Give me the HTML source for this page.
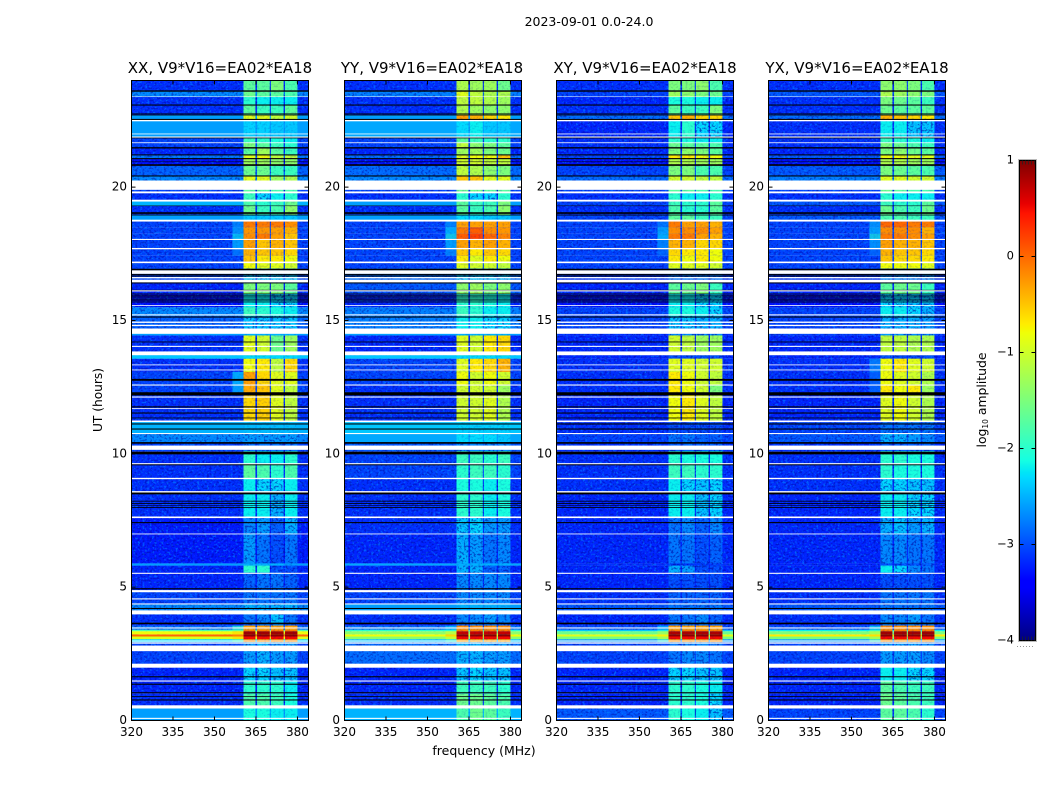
<!DOCTYPE html>
<html><head><meta charset="utf-8"><title>2023-09-01 0.0-24.0</title>
<style>
html,body{margin:0;padding:0;background:#fff;width:1050px;height:800px;overflow:hidden}
svg{display:block}
text{font-family:"DejaVu Sans","Liberation Sans",sans-serif;fill:#000}
</style></head>
<body>
<svg id="fig" xmlns="http://www.w3.org/2000/svg" width="1050" height="800" viewBox="0 0 1050 800">
<defs>
<filter id="speckLight" x="0" y="0" width="100%" height="100%" color-interpolation-filters="sRGB">
<feTurbulence type="fractalNoise" baseFrequency="0.42 0.5" numOctaves="2" seed="4"/>
<feColorMatrix type="matrix" values="0 0 0 0 0  0 0 0 0 0.55  0 0 0 0 1  6 0 0 0 -3.3"/>
</filter>
<filter id="speckDark" x="0" y="0" width="100%" height="100%" color-interpolation-filters="sRGB">
<feTurbulence type="fractalNoise" baseFrequency="0.42 0.5" numOctaves="2" seed="11"/>
<feColorMatrix type="matrix" values="0 0 0 0 0  0 0 0 0 0  0 0 0 0 0.6  5 0 0 0 -2.5"/>
</filter>
<linearGradient id="jetGrad" x1="0" y1="1" x2="0" y2="0"></linearGradient>
</defs>
<rect x="0" y="0" width="1050" height="800" fill="#fff"/>
<text x="589" y="26" font-size="12.5" text-anchor="middle">2023-09-01 0.0-24.0</text>
<text x="220" y="73" font-size="15" text-anchor="middle">XX, V9*V16=EA02*EA18</text>
<text x="432" y="73" font-size="15" text-anchor="middle">YY, V9*V16=EA02*EA18</text>
<text x="645" y="73" font-size="15" text-anchor="middle">XY, V9*V16=EA02*EA18</text>
<text x="857" y="73" font-size="15" text-anchor="middle">YX, V9*V16=EA02*EA18</text>
<text x="0" y="0" font-size="12.2" text-anchor="middle" transform="translate(102,400) rotate(-90)">UT (hours)</text>
<text x="484" y="755" font-size="12.5" text-anchor="middle">frequency (MHz)</text>
<text x="0" y="0" font-size="12.4" text-anchor="middle" transform="translate(986,400) rotate(-90)">log<tspan font-size="7.5" dy="2">10</tspan><tspan dy="-2"> amplitude</tspan></text>
<g id="panels"></g>
<g id="colorbar"></g>
</svg>
<script>
// Time segments (UT hours): each row runs from its start to the next start
const segmentStarts = [0,0.5,1.0,1.5,2.1,2.94,3.05,3.15,3.23,3.35,3.40,3.56,3.67,3.98,4.35,4.85,5.55,5.81,5.89,7.0,7.6,8.6,9.08,9.63,10.1,10.44,10.76,11.2,12.19,12.58,13.07,13.57,13.7,14.44,14.6,15.17,15.5,16.0,16.41,16.95,17.18,17.43,17.69,18.04,18.25,18.5,18.75,18.97,19.3,19.5,19.8,20.25,20.42,20.8,21.06,21.2,21.47,21.66,21.88,22.5,22.7,23.08,23.39,23.6];
const segmentEnd = 24;
// Frequency channels (MHz)
const bandEdges = [[360.5,364.8],[365.4,370.0],[370.4,375.0],[375.5,380.0]];
const freqMin = 320;
const freqMax = 384;
const rampFreqStart = 355;
// log10 amplitude per segment: [background, band1, band2, band3, band4, optional shoulder below 360 MHz]
const levelsXX = [
[-2.6,-2.1,-2.1,-2.2,-2.2],[-3.15,-1.8,-1.8,-1.9,-2.1],[-3.2,-2,-2,-2,-2.2],[-3.2,-2.3,-2.3,-2.4,-2.4],[-3.05,-2.6,-2.5,-2.6,-2.6],
[-2.3,-.2,-.2,-.2,-.2,-1.8],[-.9,.5,.5,.5,.5,-.6],[0,.95,.95,.95,.95,-.2],[-.8,.85,.85,.85,.85,-.6],[-1.8,-.1,-.1,-.1,-.1,-1.6],[-2.8,-.3,-.3,-.3,-.3,-2],
[-3.2,-2.9,-2.8,-2.7,-2.9],[-3.15,-2.8,-2.7,-2.4,-2.8],[-2.7,-2.5,-2.5,-2.5,-2.5],[-3.05,-2.8,-2.8,-2.8,-2.8],[-3.2,-2.9,-2.8,-2.8,-2.9],[-3.2,-2,-2,-3,-3],[-2.6,-2.5,-2.5,-2.5,-2.6],
[-3.25,-2.6,-2.8,-3,-2.8],[-3.25,-2.7,-2.6,-2.9,-2.5],[-3.15,-2.2,-2.2,-2.5,-2.2],[-3.15,-2.2,-2.3,-2.3,-2.2],[-3.15,-1.7,-1.8,-2,-1.8],[-3.15,-2,-2.2,-2.2,-2],[-3.05,-2.8,-2.8,-2.8,-2.8],
[-2.7,-2.6,-2.6,-2.6,-2.6],[-2.5,-2.45,-2.45,-2.45,-2.45],[-3.15,-.6,-.55,-.9,-1.1],[-3.05,-.35,-.5,-.9,-1.1,-2.4],[-3.05,-.3,-.6,-.9,-.9,-2.3],[-3.15,-.8,-.7,-1.1,-.6],[-2.4,-2.3,-2.3,-2.3,-2.3],
[-3.15,-.9,-1,-1.6,-1.3],[-2.6,-2.5,-2.5,-2.5,-2.5],[-2.9,-2.4,-2.4,-2.4,-2.4],[-2.7,-1.9,-2,-2.1,-2.2],[-3.3,-2.2,-2.2,-2.3,-2.3],[-3.2,-1.5,-1.5,-1.5,-1.7],[-3.05,-2.4,-2.4,-2.4,-2.4],
[-3.05,-.8,-.9,-.9,-1],[-3.05,-.5,-.7,-.7,-.8],[-3.05,-.4,-.5,-.5,-.6,-2.7],[-3.05,-.3,-.5,-.4,-.5,-2.4],[-3.05,-.2,-.1,-.3,-.5,-2.2],[-3.05,-.25,-.25,-.3,-.4,-2.5],[-3.05,-.1,-.1,-.1,-.2,-2.6],
[-2.6,-2.4,-2.4,-2.4,-2.4],[-3.15,-1.6,-1.9,-1.8,-1.4],[-2.5,-1.8,-2,-1.9,-1.6],[-3.15,-1.9,-2.3,-2.2,-2],[-3.05,-1.7,-1.7,-1.8,-1.8],[-2.7,-.9,-.9,-1.3,-1.2],[-2.9,-1.6,-1.6,-1.9,-1.9],[-3.3,-1.3,-1.3,-1.4,-1.4],
[-2.8,-.9,-.8,-1.1,-1.1],[-3.2,-1.7,-1.3,-1.7,-1.9],[-3.05,-1.5,-1.7,-1.9,-2],[-3.05,-1.9,-2,-2.1,-2.2],[-2.6,-2.35,-2.35,-2.4,-2.4],[-2.6,-.9,-.9,-1.1,-1],[-3.15,-1.7,-1.9,-1.9,-1.7],[-3.15,-2,-2.2,-2.2,-2.2],[-2.7,-1.6,-1.7,-1.7,-1.8],[-3.15,-1.7,-1.7,-1.5,-1.8]];
const levelsYY = [
[-2.5,-1.8,-1.6,-1.7,-1.9],[-3.15,-1.6,-1.6,-1.7,-1.8],[-3.2,-1.9,-1.9,-1.9,-2],[-3.2,-2.4,-2.3,-2.4,-2.4],[-2.85,-2.5,-2.5,-2.6,-2.6],
[-2.4,-.3,-.3,-.3,-.3,-1.9],[-1.4,.5,.5,.5,.5,-.9],[-.8,.95,.95,.95,.95,-.5],[-1.4,.7,.7,.7,.7,-1],[-2,-.1,-.1,-.1,-.1,-2],[-2.8,-.2,-.2,-.2,-.2,-2.4],
[-3.2,-2.9,-2.8,-2.8,-2.9],[-3.15,-2.7,-2.7,-2.6,-2.7],[-2.6,-2.5,-2.5,-2.5,-2.5],[-3.05,-2.7,-2.7,-2.7,-2.7],[-3.2,-2.7,-2.7,-2.7,-2.7],[-3.2,-2.5,-2.5,-2.9,-2.9],[-2.55,-2.5,-2.5,-2.5,-2.5],
[-3.2,-2.5,-2.6,-2.8,-2.7],[-3.15,-2.4,-2.3,-2.6,-2.6],[-3.15,-2,-2,-2.2,-2.1],[-3.15,-2.1,-2.1,-2.2,-2.1],[-3.05,-2,-1.9,-1.9,-2],[-3.05,-1.9,-1.9,-2,-1.9],[-2.95,-2.7,-2.7,-2.7,-2.7],
[-2.55,-2.3,-2.3,-2.3,-2.4],[-2.4,-2.35,-2.35,-2.35,-2.35],[-3.15,-1,-1,-.9,-1.2],[-3.15,-1,-1,-1,-1.3],[-3.05,-.8,-1,-.8,-1],[-3.05,-.9,-.7,-.6,-.4],[-2.4,-2.3,-2.3,-2.3,-2.3],
[-3.2,-.9,-1,-.7,-.6],[-2.6,-2.5,-2.5,-2.5,-2.5],[-2.75,-2.2,-2.2,-2.3,-2.3],[-2.75,-1.9,-2,-2.2,-2.2],[-3.2,-2,-2,-2.1,-2.2],[-2.95,-1.4,-1.3,-1.5,-1.4],[-2.85,-2.4,-2.4,-2.4,-2.4],
[-3.05,-.9,-1,-1,-1.1],[-3.05,-.7,-.9,-.7,-.8],[-3.05,-.5,-.7,-.5,-.6,-2.6],[-3.05,-.3,-.4,-.3,-.4,-2.4],[-3.05,.05,.2,0,-.15,-2.1],[-3.05,-.1,.05,-.2,-.25,-2.3],[-3.05,-.3,-.3,-.3,-.3,-2.6],
[-2.6,-2.3,-2.3,-2.4,-2.4],[-3.15,-1.7,-1.9,-1.8,-1.4],[-2.6,-1.7,-1.9,-1.9,-1.5],[-3.15,-2,-2.3,-2.3,-2],[-3.05,-1.6,-1.6,-1.7,-1.7],[-2.7,-.5,-.5,-.9,-.9],[-2.85,-1.1,-1.2,-1.4,-1.5],[-3.3,-1,-1,-1.1,-1.1],
[-2.85,-.9,-.8,-.8,-.5],[-3.2,-1.3,-1.3,-1.5,-1.6],[-3.05,-1.1,-1.4,-1.5,-1.7],[-3.05,-1.7,-1.9,-2,-2],[-2.55,-2.3,-2.2,-2.4,-2.4],[-2.6,-.3,-.4,-.6,-.7],[-3.15,-1.2,-1.3,-1.4,-1.4],[-3.15,-1.1,-1.1,-1.2,-1.3],[-2.75,-.9,-1.1,-1.2,-1.2],[-3.15,-1.2,-1.3,-1.3,-1.6]];
const levelsXY = [
[-2.95,-2,-2.1,-2.2,-2.4],[-3.2,-2,-2,-2.1,-2.3],[-3.2,-2,-2,-2.1,-2.2],[-3.2,-2.3,-2.3,-2.4,-2.4],[-3.05,-2.8,-2.7,-2.7,-2.8],
[-2.6,-.2,-.2,-.2,-.2,-1.9],[-1.5,.5,.5,.5,.5,-1.1],[-.9,.95,.95,.95,.95,-.7],[-1.6,.8,.8,.8,.8,-1.2],[-2.4,-.1,-.1,-.1,-.1,-2],[-3,-.3,-.3,-.3,-.3,-2.4],
[-3.2,-2.9,-2.8,-2.8,-2.9],[-3.2,-2.8,-2.8,-2.7,-2.9],[-2.95,-2.8,-2.8,-2.8,-2.8],[-3.15,-2.9,-2.9,-2.9,-2.9],[-3.2,-3,-3,-3,-3],[-3.2,-2.5,-2.6,-3,-3],[-3.15,-3.1,-3.1,-3.1,-3.1],
[-3.2,-2.8,-2.8,-3,-2.9],[-3.2,-2.8,-2.7,-2.9,-2.7],[-3.2,-2.2,-2.2,-2.4,-2.3],[-3.15,-2.2,-2.3,-2.4,-2.3],[-3.15,-1.9,-1.9,-2,-2],[-3.15,-2,-2.1,-2.1,-2.1],[-3.15,-2.9,-2.9,-2.9,-2.9],
[-3.05,-2.8,-2.8,-2.9,-2.9],[-3.15,-3,-3,-3,-3],[-3.2,-.8,-.7,-.9,-1.1],[-3.15,-.7,-.8,-1,-1.5],[-3.15,-.7,-.8,-1,-1.1],[-3.15,-.9,-.9,-1,-1],[-3.2,-3,-3,-3,-3],
[-3.2,-1,-1.1,-1.3,-1.3],[-3.15,-2.7,-2.7,-2.7,-2.7],[-3.05,-2.4,-2.4,-2.5,-2.5],[-3.05,-2.1,-2.1,-2.2,-2.3],[-3.3,-2.2,-2.2,-2.3,-2.3],[-3.2,-1.7,-1.6,-1.5,-1.9],[-3.15,-2.8,-2.8,-2.8,-2.8],
[-3.05,-.9,-.9,-.9,-1],[-3.05,-.7,-.8,-.7,-.8],[-3.05,-.6,-.7,-.7,-.8,-2.8],[-3.05,-.4,-.4,-.6,-.6,-2.6],[-3.05,-.1,-.1,-.3,-.4,-2.3],[-3.05,-.2,-.2,-.2,-.3,-2.4],[-3.05,-.1,-.3,-.3,-.4,-2.7],
[-3.05,-1.7,-1.7,-1.9,-1.9],[-3.15,-1.8,-2,-2,-1.7],[-3.05,-1.9,-2,-2,-1.7],[-3.15,-2,-2.2,-2.2,-2],[-3.05,-1.7,-1.7,-1.8,-1.8],[-2.85,-1,-1,-1.1,-1.1],[-3.05,-1.5,-1.5,-1.8,-1.8],[-3.3,-1.2,-1.2,-1.3,-1.3],
[-3.05,-.7,-.7,-.8,-.8],[-3.2,-1.5,-1.4,-1.5,-1.7],[-3.15,-1.6,-1.7,-1.7,-1.8],[-3.15,-2,-2.1,-2.2,-2.2],[-3.2,-2.2,-2,-2.3,-2.3],[-2.85,-.5,-.4,-.6,-.6],[-3.15,-1.7,-1.9,-1.9,-1.5],[-3.2,-2.1,-2.1,-2.2,-2.2],[-3.05,-1.3,-1.4,-1.5,-1.6],[-3.15,-1.5,-1.5,-1.4,-1.8]];
const levelsYX = [
[-3.05,-1.7,-1.7,-1.8,-2],[-3.2,-1.6,-1.7,-1.8,-1.9],[-3.2,-1.7,-1.8,-1.9,-1.9],[-3.2,-2.2,-2.2,-2.3,-2.3],[-3.05,-2.6,-2.6,-2.6,-2.7],
[-2.6,-.2,-.2,-.2,-.2,-1.8],[-1.5,.5,.5,.5,.5,-1.1],[-.7,.95,.95,.95,.95,-.6],[-1.5,.85,.85,.85,.85,-1.1],[-2.2,-.1,-.1,-.1,-.1,-1.8],[-3,-.2,-.2,-.2,-.2,-2.2],
[-3.2,-2.8,-2.8,-2.7,-2.8],[-3.15,-2.7,-2.7,-2.6,-2.8],[-2.95,-2.8,-2.8,-2.8,-2.8],[-3.15,-2.8,-2.8,-2.8,-2.8],[-3.2,-3,-3,-3,-3],[-3.2,-2.2,-2.3,-2.7,-2.8],[-3.2,-3,-3,-3,-3],
[-3.2,-2.7,-2.7,-2.8,-2.8],[-3.2,-2.5,-2.4,-2.6,-2.5],[-3.2,-2.2,-2.2,-2.3,-2.3],[-3.15,-2.3,-2.3,-2.4,-2.4],[-3.15,-2,-2.1,-2.1,-2.1],[-3.15,-2,-2,-2.1,-2.1],[-3.15,-2.9,-2.9,-2.9,-2.9],
[-2.95,-2.5,-2.5,-2.6,-2.7],[-3.05,-2.8,-2.8,-2.8,-2.8],[-3.2,-.9,-.8,-1,-1.2],[-3.15,-.7,-.8,-.7,-1.3,-2.8],[-3.15,-.8,-.9,-1,-1.2,-2.8],[-3.15,-.8,-.7,-.9,-1,-2.6],[-3.2,-3,-3,-3,-3],
[-3.2,-1.1,-1.1,-1.2,-1.2],[-3.05,-2.6,-2.6,-2.7,-2.7],[-3.05,-2.5,-2.5,-2.5,-2.6],[-3.05,-2.2,-2.2,-2.3,-2.5],[-3.3,-2.3,-2.3,-2.4,-2.4],[-3.2,-1.7,-1.6,-1.6,-1.9],[-3.15,-2.7,-2.7,-2.7,-2.7],
[-3.05,-.8,-.8,-.8,-.9],[-3.05,-.5,-.6,-.6,-.7],[-3.05,-.4,-.5,-.5,-.6,-2.8],[-3.05,-.3,-.4,-.4,-.5,-2.5],[-3.05,-.1,-.1,-.2,-.3,-2.1],[-3.05,-.2,-.2,-.2,-.4,-2.4],[-3.05,0,0,-.1,-.1,-2.5],
[-2.95,-1.8,-1.8,-1.9,-1.9],[-3.15,-1.6,-1.8,-1.9,-1.6],[-2.95,-1.9,-2,-2,-1.7],[-3.15,-2,-2.2,-2.2,-2.2],[-3.05,-1.6,-1.7,-1.8,-1.8],[-2.75,-.9,-.9,-1,-1],[-2.95,-1.5,-1.6,-1.7,-1.8],[-3.3,-1.2,-1.2,-1.3,-1.3],
[-2.95,-.8,-.8,-.9,-.9],[-3.2,-1.5,-1.4,-1.6,-1.7],[-3.15,-1.5,-1.6,-1.8,-1.9],[-3.15,-1.9,-2,-2.1,-2.2],[-3.15,-2.2,-2.2,-2.4,-2.4],[-2.85,-.4,-.5,-.6,-.7],[-3.15,-1.6,-1.7,-1.7,-1.7],[-3.15,-1.5,-1.6,-1.7,-1.9],[-2.95,-1.2,-1.3,-1.4,-1.5],[-3.15,-1.4,-1.4,-1.5,-1.8]];
// Flagged (blank) and zero-amplitude (black) time ranges, UT hours
const blankRanges = [[.06,.10],[.45,.57],[1.46,1.50],[1.98,2.13],[2.60,2.81],[2.88,2.93],[2.96,3.0],[3.45,3.49],[3.98,4.13],[4.35,4.39],[4.54,4.58],[4.81,4.89],[5.50,5.54],[6.98,7.01],[7.59,7.65],[8.55,8.60],[9.05,9.10],[9.61,9.65],[10.15,10.31],[10.74,10.78],[11.19,11.25],[11.68,11.71],[12.11,12.15],[12.56,12.60],[13.13,13.16],[13.32,13.35],[13.70,13.84],[14.01,14.05],[14.50,14.70],[14.79,14.84],[14.91,14.96],[15.19,15.23],[15.55,15.58],[16.09,16.13],[16.43,16.53],[16.58,16.63],[16.75,16.88],[17.15,17.21],[17.67,17.72],[18.02,18.06],[18.71,18.78],[19.46,19.53],[19.77,19.84],[19.90,20.25],[21.65,21.68],[21.86,21.90],[21.98,22.01],[22.47,22.52],[23.38,23.40]];
const blackRanges = [[.75,.79],[.88,.91],[1.02,1.06],[1.34,1.38],[1.62,1.66],[3.61,3.67],[4.18,4.22],[4.92,4.96],[7.40,7.44],[7.97,8.0],[8.06,8.08],[8.12,8.15],[8.21,8.24],[8.48,8.55],[9.57,9.61],[9.98,10.08],[10.38,10.44],[10.91,10.95],[11.10,11.14],[11.33,11.36],[11.51,11.55],[11.74,11.78],[12.19,12.31],[12.74,12.81],[14.18,14.21],[15.11,15.15],[15.68,15.71],[15.75,15.79],[15.83,15.86],[15.90,15.94],[15.98,16.01],[16.13,16.15],[16.39,16.43],[16.65,16.69],[16.71,16.75],[16.88,16.94],[18.94,18.97],[19.0,19.06],[19.29,19.31],[20.40,20.44],[20.80,20.86],[20.94,20.96],[21.05,21.09],[21.19,21.23],[21.45,21.50],[21.83,21.86],[22.52,22.56],[22.69,22.73],[22.75,22.77],[23.06,23.10],[23.58,23.63]];
// Axis ticks
const freqTicks = [320,335,350,365,380];
const utTicks = [0,5,10,15,20];
const colorTicks = [-4,-3,-2,-1,0,1];
const colorTickLabels = ['\u22124','\u22123','\u22122','\u22121','0','1'];
const panelNames = ['xx','yy','xy','yx'];
const panelLevels = [levelsXX,levelsYY,levelsXY,levelsYX];
const panelLefts = [131.5,344.5,556.5,768.5];
const panelWidth = 177, panelTop = 80.5, panelBottom = 720.5;
const brightBackground = -2.65, brightBand = -2.2;
const NS = 'http://www.w3.org/2000/svg';
const jetR = [[0,0],[.35,0],[.66,1],[.89,1],[1,.5]];
const jetG = [[0,0],[.125,0],[.375,1],[.64,1],[.91,0],[1,0]];
const jetB = [[0,.5],[.11,1],[.34,1],[.65,0],[1,0]];
function channel(anchors,t){
  for(let i=1;i<anchors.length;i++){
    if(t<=anchors[i][0]){
      const a=anchors[i-1],b=anchors[i];
      return a[1]+(b[1]-a[1])*(t-a[0])/(b[0]-a[0]);
    }
  }
  return anchors[anchors.length-1][1];
}
function jet(t){
  t=Math.max(0,Math.min(1,t));
  return 'rgb('+[jetR,jetG,jetB].map(c=>Math.round(channel(c,t)*255)).join(',')+')';
}
function colorOf(v){return jet((v+4)/5);}
function xScale(left,f){return left+(f-freqMin)/(freqMax-freqMin)*panelWidth;}
function yScale(h){return panelBottom-h/24*(panelBottom-panelTop);}
function mk(parent,tag,attrs){
  const el=document.createElementNS(NS,tag);
  for(const k in attrs)el.setAttribute(k,attrs[k]);
  parent.appendChild(el);
  return el;
}
function segTop(i){return yScale(i+1<segmentStarts.length?segmentStarts[i+1]:segmentEnd);}
const root=document.getElementById('panels');
panelNames.forEach(function(name,p){
  const left=panelLefts[p];
  const g=mk(root,'g',{});
  
  
  const rows=panelLevels[p];
  function drawBackground(row,i){
    const top=segTop(i),h=yScale(segmentStarts[i])-top;
    const bg=mk(g,'rect',{x:left,y:top,width:panelWidth,height:h,fill:colorOf(row[0])});
    
    
  }
  function drawBand(row,i,b){
    const top=segTop(i),h=yScale(segmentStarts[i])-top;
    const x0=xScale(left,bandEdges[b][0]),x1=xScale(left,bandEdges[b][1]);
    const cell=mk(g,'rect',{x:x0,y:top,width:x1-x0,height:h,fill:colorOf(row[b+1])});
    
    
  }
  // quiet cells sit under the speckle texture
  rows.forEach(function(row,i){
    if(row[0]<=brightBackground)drawBackground(row,i);
  });
  rows.forEach(function(row,i){
    bandEdges.forEach(function(edge,b){
      if(row[0]<=brightBackground&&row[b+1]<brightBand)drawBand(row,i,b);
    });
  });
  const speckA=mk(g,'rect',{x:left,y:panelTop,width:panelWidth,height:panelBottom-panelTop,filter:'url(#speckLight)',opacity:.55});
  
  
  const speckD=mk(g,'rect',{x:left,y:panelTop,width:panelWidth,height:panelBottom-panelTop,filter:'url(#speckDark)',opacity:.45});
  
  
  // bright cells sit above it
  rows.forEach(function(row,i){
    if(row[0]>brightBackground)drawBackground(row,i);
  });
  rows.forEach(function(row,i){
    if(row.length>5){
      const top=segTop(i),h=yScale(segmentStarts[i])-top;
      const x0=xScale(left,rampFreqStart+1.5),x1=xScale(left,bandEdges[0][0]);
      const ramp=mk(g,'rect',{x:x0,y:top,width:x1-x0,height:h,fill:colorOf(row[5]),'fill-opacity':.65});
      
      
    }
    bandEdges.forEach(function(edge,b){
      if(row[0]>brightBackground||row[b+1]>=brightBand)drawBand(row,i,b);
    });
  });
  const bandX0=xScale(left,bandEdges[0][0]),bandX1=xScale(left,bandEdges[3][1]);
  const speckB=mk(g,'rect',{x:bandX0,y:panelTop,width:bandX1-bandX0,height:panelBottom-panelTop,filter:'url(#speckDark)',opacity:.14});
  
  
  blackRanges.forEach(function(r){
    const top=yScale(r[1]);
    const el=mk(g,'rect',{x:left,y:top,width:panelWidth,height:yScale(r[0])-top,fill:'#000'});
    
    
  });
  blankRanges.forEach(function(r){
    const top=yScale(r[1]);
    const el=mk(g,'rect',{x:left,y:top,width:panelWidth,height:yScale(r[0])-top,fill:'#fff'});
    
    
  });
  const frame=mk(g,'rect',{x:left,y:panelTop,width:panelWidth,height:panelBottom-panelTop,fill:'none',stroke:'#000','stroke-width':1});
  
  
  freqTicks.forEach(function(f){
    const x=xScale(left,f);
    const t1=mk(g,'path',{d:'M'+x+' '+panelBottom+'v-4M'+x+' '+panelTop+'v4',stroke:'#000','stroke-width':1,fill:'none'});
    
    
    const lab=mk(g,'text',{x:x,y:736,'font-size':12,'text-anchor':'middle'});
    
    
    lab.textContent=String(f);
  });
  utTicks.forEach(function(u){
    const y=yScale(u);
    const t1=mk(g,'path',{d:'M'+left+' '+y+'h4M'+(left+panelWidth)+' '+y+'h-4',stroke:'#000','stroke-width':1,fill:'none'});
    
    
    const lab=mk(g,'text',{x:left-4.5,y:y+3.5,'font-size':12,'text-anchor':'end'});
    
    
    lab.textContent=String(u);
  });
});
// colorbar
const grad=document.getElementById('jetGrad');
[0,.11,.125,.34,.35,.375,.64,.65,.66,.89,.91,1].forEach(function(s){
  mk(grad,'stop',{offset:s,'stop-color':jet(s)});
});
const cb=document.getElementById('colorbar');
const cbX=1019.5,cbW=16,cbTop=160.5,cbBottom=640.5;
function cbScale(v){return cbBottom-(v+4)/5*(cbBottom-cbTop);}
const bar=mk(cb,'rect',{x:cbX,y:cbTop,width:cbW,height:cbBottom-cbTop,fill:'url(#jetGrad)',stroke:'#000','stroke-width':1});


const halo=mk(cb,'rect',{x:cbX-1,y:cbTop-1,width:cbW+2,height:cbBottom-cbTop+2,fill:'none',stroke:'#bbb','stroke-width':1});


colorTicks.forEach(function(v,i){
  const y=cbScale(v);
  const t=mk(cb,'path',{d:'M'+cbX+' '+y+'h4M'+(cbX+cbW)+' '+y+'h-4',stroke:'#000','stroke-width':1,fill:'none'});
  
  
  const lab=mk(cb,'text',{x:1014,y:y+3,'font-size':11.5,'text-anchor':'end'});
  
  
  lab.textContent=colorTickLabels[i];
});
[3,6,9,12,15].forEach(function(dx){
  const t=mk(cb,'path',{d:'M'+(cbX+dx)+' '+cbTop+'v4M'+(cbX+dx)+' '+cbBottom+'v-4',stroke:'#222','stroke-width':1,fill:'none',opacity:.7});
  
  
});
const dots=mk(cb,'path',{d:'M1017 646.5H1035',stroke:'#999','stroke-width':1,'stroke-dasharray':'1 2',fill:'none'});


</script>
</body></html>
